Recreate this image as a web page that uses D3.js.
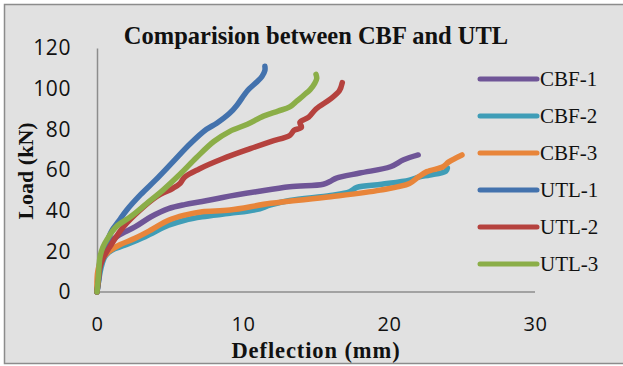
<!DOCTYPE html>
<html>
<head>
<meta charset="utf-8">
<script src="https://cdn.jsdelivr.net/npm/d3@7"></script>
<style>
  html, body { margin: 0; padding: 0; background: #ffffff; }
  svg { display: block; }
</style>
</head>
<body>
<svg id="chart"></svg>
<script>
// ===== DATA =====  [deflection (mm), load (kN)]
const cbf1 = [[0,0],[0.1,8],[0.2,15],[0.4,20],[0.8,24],[1.5,28],[2.6,32],[3.7,37],[4.9,41],[6.0,43],
  [7.2,44.5],[8.6,46.5],[10.9,49.3],[13.2,51.8],[15.5,53],[16.0,54.5],[16.4,56],[18,58.5],[20.1,61.6],[21.0,65],[22.0,67.4]];
const cbf2 = [[0,0],[0.1,5],[0.3,12.5],[0.55,17.5],[1.0,20.5],[1.9,23],[3.3,27.2],[4.9,32.8],[6.0,35.3],[7.2,37],
  [9.1,38.7],[10.9,40.5],[11.9,42.8],[13.2,45],[16.0,47.5],[17.3,49.3],[17.8,51.5],[19.5,53],[21.4,55],[22.1,56.7],[22.8,57.5],[23.9,59.5],[24.0,61]];
const cbf3 = [[0,0],[0.05,10],[0.3,15.7],[0.8,19.8],[1.5,23],[2.6,26.4],[3.7,30.5],[4.9,35.3],[6.0,37.8],[7.2,39.5],
  [9.1,40.3],[11.9,43.6],[16.0,46.8],[19.4,50.1],[21.4,53.4],[22.0,56.5],[22.6,59.2],[23.7,61.6],[24.1,64],[25.0,67.4]];
const utl1 = [[0,0],[0.1,5],[0.2,12],[0.4,19],[0.6,23],[1.0,30],[1.5,35],[2.0,40],[3.0,48],[4.0,55],[5.2,64],
  [6.4,73],[7.5,80],[8.2,83],[9.1,88],[9.6,92],[10.3,99],[10.9,103],[11.3,106],[11.5,109],[11.5,111]];
const utl2 = [[0,0],[0.1,6],[0.2,12],[0.45,17],[0.9,22.5],[1.8,32],[2.9,40],[4.1,47],[5.2,51],[5.7,53.5],[6.0,56.5],
  [7.0,60.5],[8.6,65.5],[10.5,70.5],[11.9,74],[13.2,77],[13.5,79.5],[14.0,81],[13.9,83.5],[14.5,86],[15.0,90],[16.0,95],[16.6,99],[16.8,103]];
const utl3 = [[0,0],[0.1,8],[0.2,17],[0.4,22],[0.7,26],[1.3,32],[2.3,37],[3.4,43.5],[4.5,50],[5.7,58],[6.8,66],
  [8.0,74],[9.1,79],[10.3,82.5],[11.4,86.5],[12.4,89],[13.2,91],[13.7,94],[14.2,97],[14.6,99.5],[14.9,102.5],[15.05,105],[15.0,107]];

const seriesNames = ["CBF-1", "CBF-2", "CBF-3", "UTL-1", "UTL-2", "UTL-3"];
const seriesValues = [cbf1, cbf2, cbf3, utl1, utl2, utl3];
const seriesColors = ["#6f5597", "#3f9db7", "#e8853a", "#4372ad", "#b5423e", "#8bae48"];
const xTicks = [0, 10, 20, 30];
const yTicks = [0, 20, 40, 60, 80, 100, 120];

const width = 623, height = 366;

const svg = d3.select("svg#chart")
    .attr("width", width)
    .attr("height", height);

// chart area background + frame
svg.append("rect")
    .attr("x", 4.5).attr("y", 4.5)
    .attr("width", width + 10).attr("height", 359)
    .attr("fill", "#e1e1e1")
    .attr("stroke", "#8c8c8c")
    .attr("stroke-width", 1.5);

const x = d3.scaleLinear().domain([0, 30]).range([97, 535]);
const y = d3.scaleLinear().domain([0, 120]).range([292, 48]);

// ===== AXES =====
const yAxis = svg.append("g")
    .attr("transform", `translate(${x(0)},0)`)
    .call(d3.axisLeft(y).tickValues(yTicks).tickSize(0).tickPadding(26));
const xAxis = svg.append("g")
    .attr("transform", `translate(0,${y(0)})`)
    .call(d3.axisBottom(x).tickValues(xTicks).tickSize(0).tickPadding(25));

[yAxis, xAxis].forEach(a => {
    a.select(".domain").attr("stroke", "#8c8c8c").attr("stroke-width", 1.5);
    a.selectAll("text")
        .attr("font-family", "Open Sans")
        .attr("font-size", 21)
        .attr("letter-spacing", 0.6)
        .attr("fill", "#111");
});
xAxis.selectAll("text").attr("font-size", 20);
xAxis.select(".domain").attr("d", `M${x(0)},0H${x(30)}`);

// ===== LINES =====
const gen_line = d3.line()
    .x(d => x(d[0]))
    .y(d => y(d[1]))
    .curve(d3.curveCatmullRom.alpha(0.5));

svg.append("g")
    .selectAll("path")
    .data(seriesValues)
    .join("path")
    .attr("d", d => gen_line(d))
    .attr("fill", "none")
    .attr("stroke", (d, i) => seriesColors[i])
    .attr("stroke-width", 5.5)
    .attr("stroke-linecap", "round")
    .attr("stroke-linejoin", "round");

// ===== LEGEND =====
const legend = svg.append("g")
    .selectAll("g")
    .data(seriesNames)
    .join("g")
    .attr("transform", (d, i) => `translate(480,${79 + i * 37})`);
legend.append("line")
    .attr("x1", 0).attr("x2", 57)
    .attr("stroke", (d, i) => seriesColors[i])
    .attr("stroke-width", 5)
    .attr("stroke-linecap", "round");
legend.append("text")
    .attr("x", 60).attr("y", 7)
    .attr("font-family", "Liberation Serif")
    .attr("font-size", 21)
    .attr("fill", "#111")
    .text(d => d);

// ===== TITLES =====
svg.append("text")
    .attr("x", 316).attr("y", 44)
    .attr("text-anchor", "middle")
    .attr("font-family", "Liberation Serif")
    .attr("font-weight", "bold")
    .attr("font-size", 24.5)
    .attr("fill", "#111")
    .text("Comparision between CBF and UTL");

svg.append("text")
    .attr("x", 316).attr("y", 358)
    .attr("text-anchor", "middle")
    .attr("font-family", "Liberation Serif")
    .attr("font-weight", "bold")
    .attr("font-size", 22.5)
    .attr("letter-spacing", 0.9)
    .attr("fill", "#111")
    .text("Deflection (mm)");

svg.append("text")
    .attr("transform", "translate(33,171) rotate(-90)")
    .attr("text-anchor", "middle")
    .attr("font-family", "Liberation Serif")
    .attr("font-weight", "bold")
    .attr("font-size", 22)
    .attr("fill", "#111")
    .text("Load (kN)");
</script>
</body>
</html>
